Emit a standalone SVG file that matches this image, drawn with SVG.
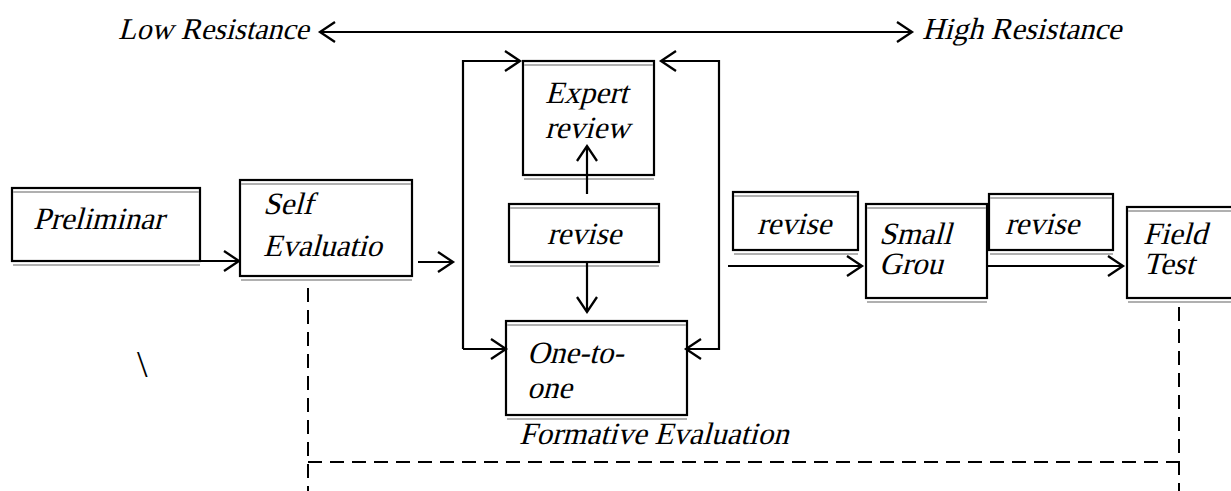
<svg xmlns="http://www.w3.org/2000/svg" width="1231" height="491" viewBox="0 0 1231 491">
  <defs>
    <marker id="arr" markerUnits="userSpaceOnUse" markerWidth="22" markerHeight="26" viewBox="-18 -13 22 26" refX="0" refY="0" orient="auto-start-reverse">
      <path d="M-15,-10 L0,0 L-15,10" fill="none" stroke="#000" stroke-width="2.3"/>
    </marker>
  </defs>
  <style>
    .box { fill: #fff; stroke: #000; stroke-width: 2.2; }
    .sh { stroke: #b0b0b0; stroke-width: 2; fill: none; }
    .ln { stroke: #000; stroke-width: 2.2; fill: none; }
    .arw { stroke: #000; stroke-width: 2.2; fill: none; marker-end: url(#arr); }
    .dash { stroke: #000; stroke-width: 2; fill: none; stroke-dasharray: 14 8; }
  </style>
  <rect width="1231" height="491" fill="#fff"/>

  <g font-family="Liberation Serif, Times New Roman, serif" font-size="31" fill="#000">
  <g id="scale">
    <text transform="translate(118,39) skewX(-15)" font-size="30">Low Resistance</text>
    <text transform="translate(922,39) skewX(-15)" font-size="30.5">High Resistance</text>
  </g>

  <g id="preliminary">
    <rect class="box" x="12" y="188" width="188" height="73"/>
    <line class="sh" x1="13" y1="192" x2="199" y2="192"/>
    <line class="sh" x1="13" y1="265" x2="200" y2="265"/>
    <text transform="translate(33,229) skewX(-15)">Preliminar</text>
  </g>

  <g id="self-evaluation">
    <rect class="box" x="240" y="180" width="172" height="96"/>
    <line class="sh" x1="241" y1="184" x2="411" y2="184"/>
    <line class="sh" x1="241" y1="280" x2="412" y2="280"/>
    <text transform="translate(263,214) skewX(-15)">Self</text>
    <text transform="translate(263,256) skewX(-15)">Evaluatio</text>
  </g>

  <g id="expert-review">
    <rect class="box" x="523" y="61" width="131" height="114"/>
    <line class="sh" x1="524" y1="65" x2="653" y2="65"/>
    <line class="sh" x1="524" y1="179" x2="654" y2="179"/>
    <text transform="translate(545,103) skewX(-15)">Expert</text>
    <text transform="translate(545,138) skewX(-15)">review</text>
  </g>

  <g id="revise-mid">
    <rect class="box" x="509" y="204" width="150" height="58"/>
    <line class="sh" x1="510" y1="208" x2="658" y2="208"/>
    <line class="sh" x1="510" y1="266" x2="659" y2="266"/>
    <text transform="translate(547,244) skewX(-15)">revise</text>
  </g>

  <g id="one-to-one">
    <rect class="box" x="506" y="321" width="181" height="94"/>
    <line class="sh" x1="507" y1="325" x2="686" y2="325"/>
    <line class="sh" x1="507" y1="419" x2="687" y2="419"/>
    <text transform="translate(527,363) skewX(-15)">One-to-</text>
    <text transform="translate(527,398) skewX(-15)">one</text>
  </g>

  <g id="formative-label">
    <text transform="translate(519,444) skewX(-15)">Formative Evaluation</text>
  </g>

  <g id="revise-1">
    <rect class="box" x="733" y="192" width="125" height="58"/>
    <line class="sh" x1="734" y1="196" x2="857" y2="196"/>
    <line class="sh" x1="734" y1="254" x2="858" y2="254"/>
    <text transform="translate(757,234) skewX(-15)">revise</text>
  </g>

  <g id="small-group">
    <rect class="box" x="866" y="204" width="121" height="94"/>
    <line class="sh" x1="867" y1="208" x2="986" y2="208"/>
    <line class="sh" x1="867" y1="302" x2="987" y2="302"/>
    <text transform="translate(879,244) skewX(-15)">Small</text>
    <text transform="translate(879,274) skewX(-15)">Grou</text>
  </g>

  <g id="revise-2">
    <rect class="box" x="989" y="194" width="124" height="56"/>
    <line class="sh" x1="990" y1="198" x2="1112" y2="198"/>
    <line class="sh" x1="990" y1="254" x2="1113" y2="254"/>
    <text transform="translate(1005,234) skewX(-15)">revise</text>
  </g>

  <g id="field-test">
    <rect class="box" x="1127" y="207" width="120" height="91"/>
    <line class="sh" x1="1128" y1="211" x2="1231" y2="211"/>
    <line class="sh" x1="1128" y1="302" x2="1231" y2="302"/>
    <text transform="translate(1143,244) skewX(-15)">Field</text>
    <text transform="translate(1143,274) skewX(-15)">Test</text>
  </g>

  <g id="stray">
    <text x="137" y="377" font-size="38">\</text>
  </g>
  </g>

  <g id="connectors">
    <line class="arw" x1="320" y1="32" x2="912" y2="32" style="marker-start:url(#arr)"/>
    <line class="arw" x1="200" y1="261" x2="239" y2="261"/>
    <line class="arw" x1="418" y1="262" x2="453" y2="262"/>
    <polyline class="arw" points="463,262 463,61 520,61"/>
    <line class="ln" x1="463" y1="262" x2="463" y2="349"/>
    <line class="arw" x1="463" y1="349" x2="506" y2="349"/>
    <polyline class="arw" points="719,205 719,61 661,61"/>
    <polyline class="arw" points="719,205 719,349 686,349"/>
    <line class="arw" x1="587" y1="194" x2="587" y2="146"/>
    <line class="arw" x1="587" y1="262" x2="587" y2="312"/>
    <line class="arw" x1="728" y1="266" x2="862" y2="266"/>
    <line class="arw" x1="987" y1="266" x2="1123" y2="266"/>
    <line class="dash" x1="308" y1="288" x2="308" y2="491"/>
    <line class="dash" x1="1179" y1="307" x2="1179" y2="491"/>
    <line class="dash" x1="308" y1="462" x2="1179" y2="462"/>
  </g>
</svg>
